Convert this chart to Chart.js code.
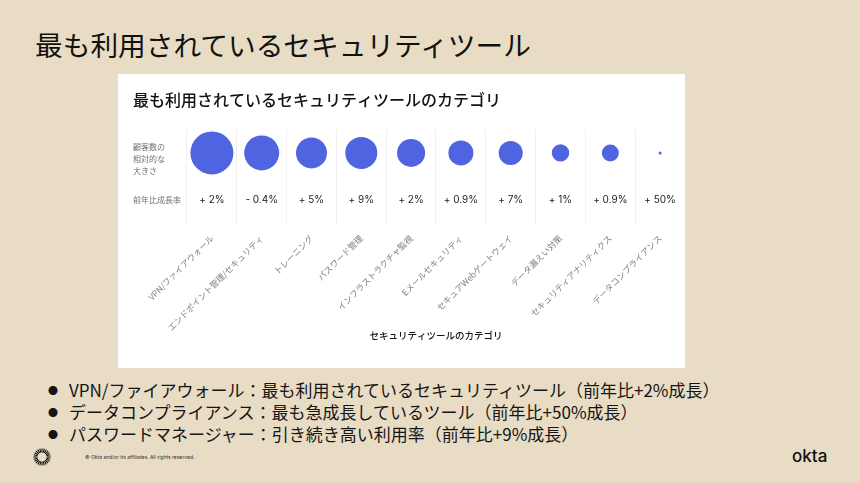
<!DOCTYPE html>
<html lang="ja">
<head>
<meta charset="utf-8">
<script src="https://cdn.jsdelivr.net/npm/chart.js@4.4.1/dist/chart.umd.min.js"></script>
<style>
    body {
        margin: 0;
        width: 860px;
        height: 483px;
        background: #e8dcc5;
        font-family: "Noto Sans CJK JP", sans-serif;
        position: relative;
        overflow: hidden;
    }
    h1 {
        position: absolute;
        left: 35px;
        top: 31px;
        margin: 0;
        font-size: 27.7px;
        font-weight: 400;
        line-height: 1;
        color: #111;
    }
    .card {
        position: absolute;
        left: 118px;
        top: 74px;
        width: 567px;
        height: 294px;
        background: #fff;
    }
    .points {
        position: absolute;
        left: 48px;
        top: 379px;
        margin: 0;
        padding: 0;
        list-style: none;
        font-size: 17px;
        line-height: 21px;
        color: #151515;
    }
    .points li::before {
        content: "●";
        display: inline-block;
        width: 21px;
        font-size: 10px;
        vertical-align: 2px;
    }
    .logo {
        position: absolute;
        left: 33px;
        top: 448px;
    }
    .copy {
        position: absolute;
        left: 85px;
        top: 454px;
        font-family: Inter, sans-serif;
        font-size: 5px;
        color: #333;
    }
    .okta {
        position: absolute;
        left: 792px;
        top: 446px;
        font-family: Inter, sans-serif;
        font-size: 17px;
        font-weight: 500;
        color: #111;
    }
</style>
</head>
<body>
<h1>最も利用されているセキュリティツール</h1>

<div class="card"><canvas id="toolsChart"></canvas></div>

<ul class="points">
    <li>VPN/ファイアウォール：最も利用されているセキュリティツール（前年比+2%成長）</li>
    <li>データコンプライアンス：最も急成長しているツール（前年比+50%成長）</li>
    <li>パスワードマネージャー：引き続き高い利用率（前年比+9%成長）</li>
</ul>

<svg class="logo" width="18" height="18" viewBox="-9 -9 18 18" id="logo"></svg>
<div class="copy">© Okta and/or its affiliates. All rights reserved.</div>
<div class="okta">okta</div>

<script>
// Données du graphique
const categories = [
    'VPN/ファイアウォール',
    'エンドポイント管理/セキュリティ',
    'トレーニング',
    'パスワード管理',
    'インフラストラクチャ監視',
    'Eメールセキュリティ',
    'セキュアWebゲートウェイ',
    'データ漏えい対策',
    'セキュリティアナリティクス',
    'データコンプライアンス'
];
// taille relative (rayon en px)
const relativeSize = [21.5, 17.5, 15.5, 16, 14, 12.5, 12, 8.7, 8.5, 1.5];
// croissance annuelle (%)
const growthRate = [2, -0.4, 5, 9, 2, 0.9, 7, 1, 0.9, 50];
const rowLabels = [['顧客数の', '相対的な', '大きさ'], '前年比成長率'];
const rowKeys = rowLabels.map(l => [].concat(l).join(''));

// petit logo soleil
const logo = document.getElementById('logo');
let rays = '';
for (let i = 0; i < 24; i++) {
    const a = i * Math.PI / 12;
    const c = Math.cos(a), s = Math.sin(a);
    rays += `<line x1="${(4.6 * c).toFixed(2)}" y1="${(4.6 * s).toFixed(2)}" x2="${(8.6 * c).toFixed(2)}" y2="${(8.6 * s).toFixed(2)}" stroke="#111" stroke-width="1.1"/>`;
}
logo.innerHTML = rays;

function formatGrowth(v) {
    return (v < 0 ? '- ' : '+ ') + Math.abs(v) + '%';
}

// Texte de la ligne "前年比成長率"
const growthLabels = {
    id: 'growthLabels',
    afterDatasetsDraw(chart) {
        const { ctx, scales: { x, y } } = chart;
        ctx.save();
        ctx.font = '10px Inter, sans-serif';
        ctx.fillStyle = '#222';
        ctx.textAlign = 'center';
        ctx.textBaseline = 'middle';
        growthRate.forEach((v, i) => {
            ctx.fillText(formatGrowth(v), x.getPixelForValue(i), y.getPixelForValue(1));
        });
        ctx.restore();
    }
};

Chart.defaults.font.family = '"Noto Sans CJK JP", sans-serif';

const toolsChart = new Chart(document.getElementById('toolsChart'), {
    type: 'bubble',
    data: {
        labels: categories,
        datasets: [{
            data: relativeSize.map((r, i) => ({ x: categories[i], y: rowKeys[0], r: r })),
            backgroundColor: '#4f64e0',
            borderColor: '#4f64e0',
            borderWidth: 0,
            hoverRadius: 0
        }]
    },
    plugins: [growthLabels],
    options: {
        responsive: true,
        maintainAspectRatio: false,
        animation: false,
        layout: {
            autoPadding: false,
            padding: { top: 16, left: 15, right: 0, bottom: 27 }
        },
        plugins: {
            legend: { display: false },
            tooltip: { enabled: false },
            title: {
                display: true,
                text: '最も利用されているセキュリティツールのカテゴリ',
                align: 'start',
                color: '#111',
                font: { size: 16, weight: '500' },
                padding: { top: 0, bottom: 20 }
            }
        },
        scales: {
            x: {
                type: 'category',
                labels: categories,
                offset: true,
                grid: {
                    offset: true,
                    color: '#f0f0f0',
                    drawTicks: false
                },
                border: { display: false },
                ticks: {
                    autoSkip: false,
                    minRotation: 45,
                    maxRotation: 45,
                    color: '#808080',
                    font: { size: 8.5 },
                    padding: 9
                },
                title: {
                    display: true,
                    text: 'セキュリティツールのカテゴリ',
                    color: '#111',
                    font: { size: 9.5, weight: '500' },
                    padding: { top: 0, bottom: 0 }
                },
                // hauteur fixe, et les étiquettes inclinées ne poussent pas la zone
                afterFit(scale) {
                    scale.height = 117;
                    scale.paddingLeft = 0;
                    scale.paddingRight = 0;
                }
            },
            y: {
                type: 'category',
                labels: rowKeys,
                offset: true,
                grid: { display: false, drawTicks: false },
                border: { display: false },
                ticks: {
                    autoSkip: false,
                    crossAlign: 'far',
                    color: '#707070',
                    font: { size: 8, lineHeight: 1.5 },
                    padding: 3,
                    // ligne vide en tête : le bloc descend un peu, comme sur l'original
                    callback: (value, index) => Array.isArray(rowLabels[index])
                        ? [''].concat(rowLabels[index])
                        : rowLabels[index]
                }
            }
        }
    }
});
</script>
</body>
</html>
